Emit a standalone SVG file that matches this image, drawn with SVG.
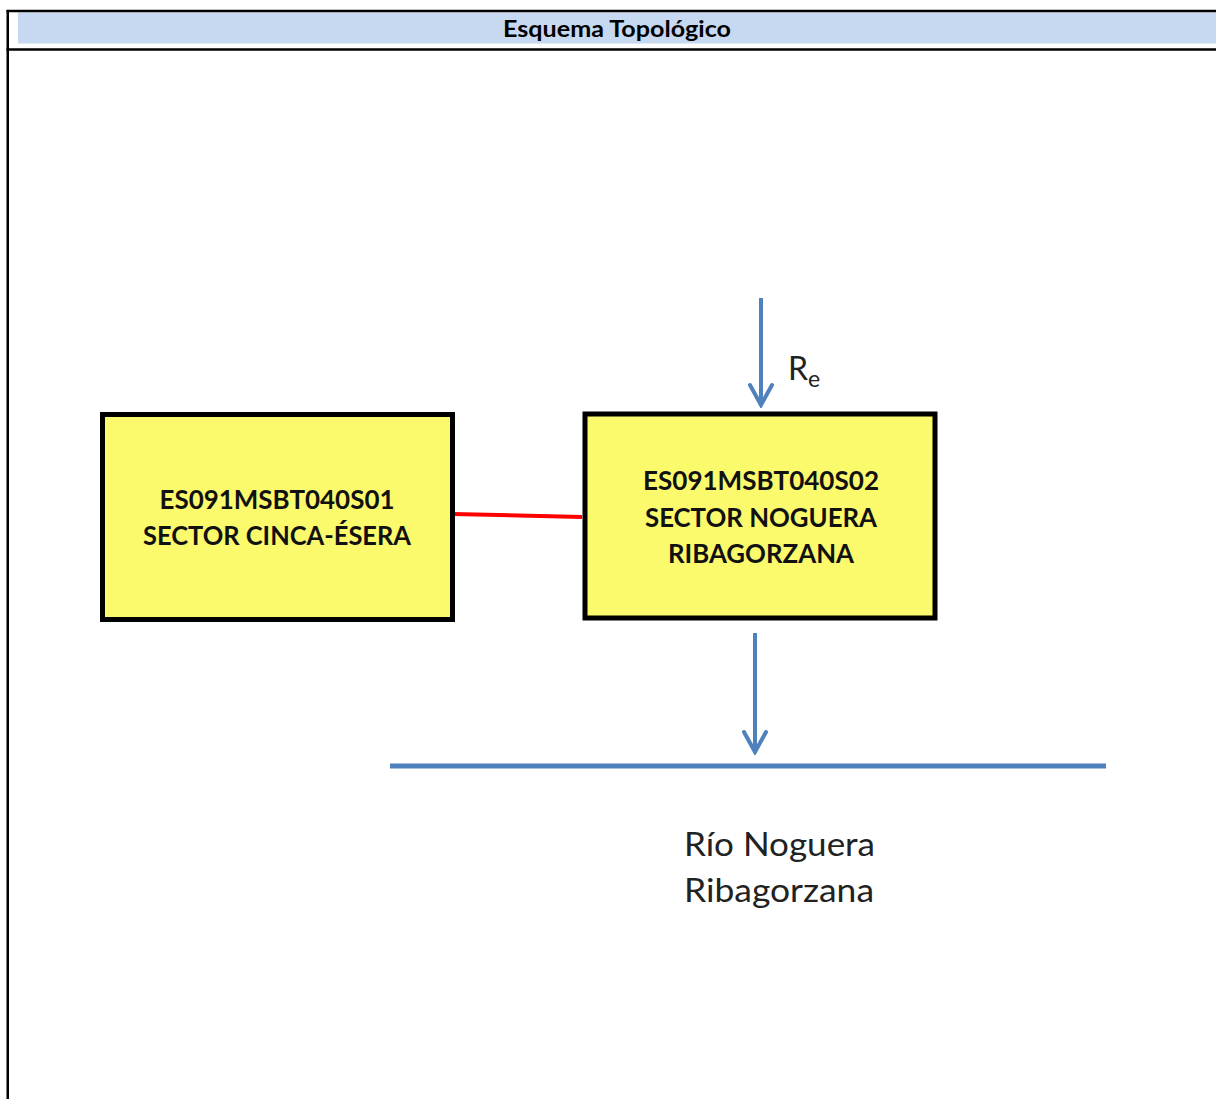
<svg xmlns="http://www.w3.org/2000/svg" width="1216" height="1099" viewBox="0 0 1216 1099">
  <style>
    .frame { stroke: #000; stroke-width: 2.5; fill: none; }
    .box { fill: #fbf96c; stroke: #000; stroke-width: 5; }
    .label { font-family: Lato, "Open Sans", "Liberation Sans", sans-serif; font-weight: bold; font-size: 27px; fill: #111; text-anchor: middle; }
    .title { font-family: Lato, "Open Sans", "Liberation Sans", sans-serif; font-weight: bold; font-size: 22px; fill: #000; text-anchor: middle; }
    .plain { font-family: Lato, "Open Sans", "Liberation Sans", sans-serif; font-size: 32px; fill: #222; }
    .flow { stroke: #4f81bd; stroke-width: 4; fill: none; }
  </style>
  <defs>
    <marker id="head" markerUnits="userSpaceOnUse" markerWidth="26" markerHeight="26" viewBox="0 0 26 26" refX="23" refY="13" orient="auto">
      <path d="M3,2 L23,13 L3,24" fill="none" stroke="#4f81bd" stroke-width="4" stroke-linejoin="miter" stroke-linecap="round"/>
    </marker>
  </defs>

  <rect width="1216" height="1099" fill="#fff"/>

  <!-- table frame and header -->
  <g id="header">
    <rect x="18" y="12.5" width="1198" height="31" fill="#c6d9f1"/>
    <line class="frame" x1="6.5" y1="11" x2="1216" y2="11"/>
    <line class="frame" x1="6.5" y1="49.5" x2="1216" y2="49.5"/>
    <line class="frame" x1="7.75" y1="10" x2="7.75" y2="1099"/>
    <text class="title" x="617" y="36.5" textLength="228" lengthAdjust="spacingAndGlyphs">Esquema Topológico</text>
  </g>

  <!-- connectors -->
  <g id="connectors">
    <path d="M453,514 L582,517" stroke="#ff0000" stroke-width="4" fill="none"/>
    <line class="flow" x1="761" y1="298" x2="761" y2="405" marker-end="url(#head)"/>
    <line class="flow" x1="755" y1="633" x2="755" y2="752" marker-end="url(#head)"/>
    <line x1="390" y1="766" x2="1106" y2="766" stroke="#4f81bd" stroke-width="5"/>
  </g>

  <g id="node-s01">
    <rect class="box" x="102.5" y="414.5" width="350" height="205"/>
    <text class="label" x="277" y="509" textLength="235" lengthAdjust="spacingAndGlyphs">ES091MSBT040S01</text>
    <text class="label" x="277" y="545" textLength="268" lengthAdjust="spacingAndGlyphs">SECTOR CINCA-ÉSERA</text>
  </g>

  <g id="node-s02">
    <rect class="box" x="585" y="414" width="350" height="204"/>
    <text class="label" x="761" y="490" textLength="236" lengthAdjust="spacingAndGlyphs">ES091MSBT040S02</text>
    <text class="label" x="761" y="527" textLength="232" lengthAdjust="spacingAndGlyphs">SECTOR NOGUERA</text>
    <text class="label" x="761" y="563" textLength="186" lengthAdjust="spacingAndGlyphs">RIBAGORZANA</text>
  </g>

  <g id="recharge-label">
    <text class="plain" x="788" y="380" font-size="37">R<tspan x="808" y="387" font-size="23">e</tspan></text>
  </g>

  <g id="river">
    <text class="plain" x="684" y="856" textLength="191" lengthAdjust="spacingAndGlyphs">Río Noguera</text>
    <text class="plain" x="684" y="902" textLength="190" lengthAdjust="spacingAndGlyphs">Ribagorzana</text>
  </g>
</svg>
